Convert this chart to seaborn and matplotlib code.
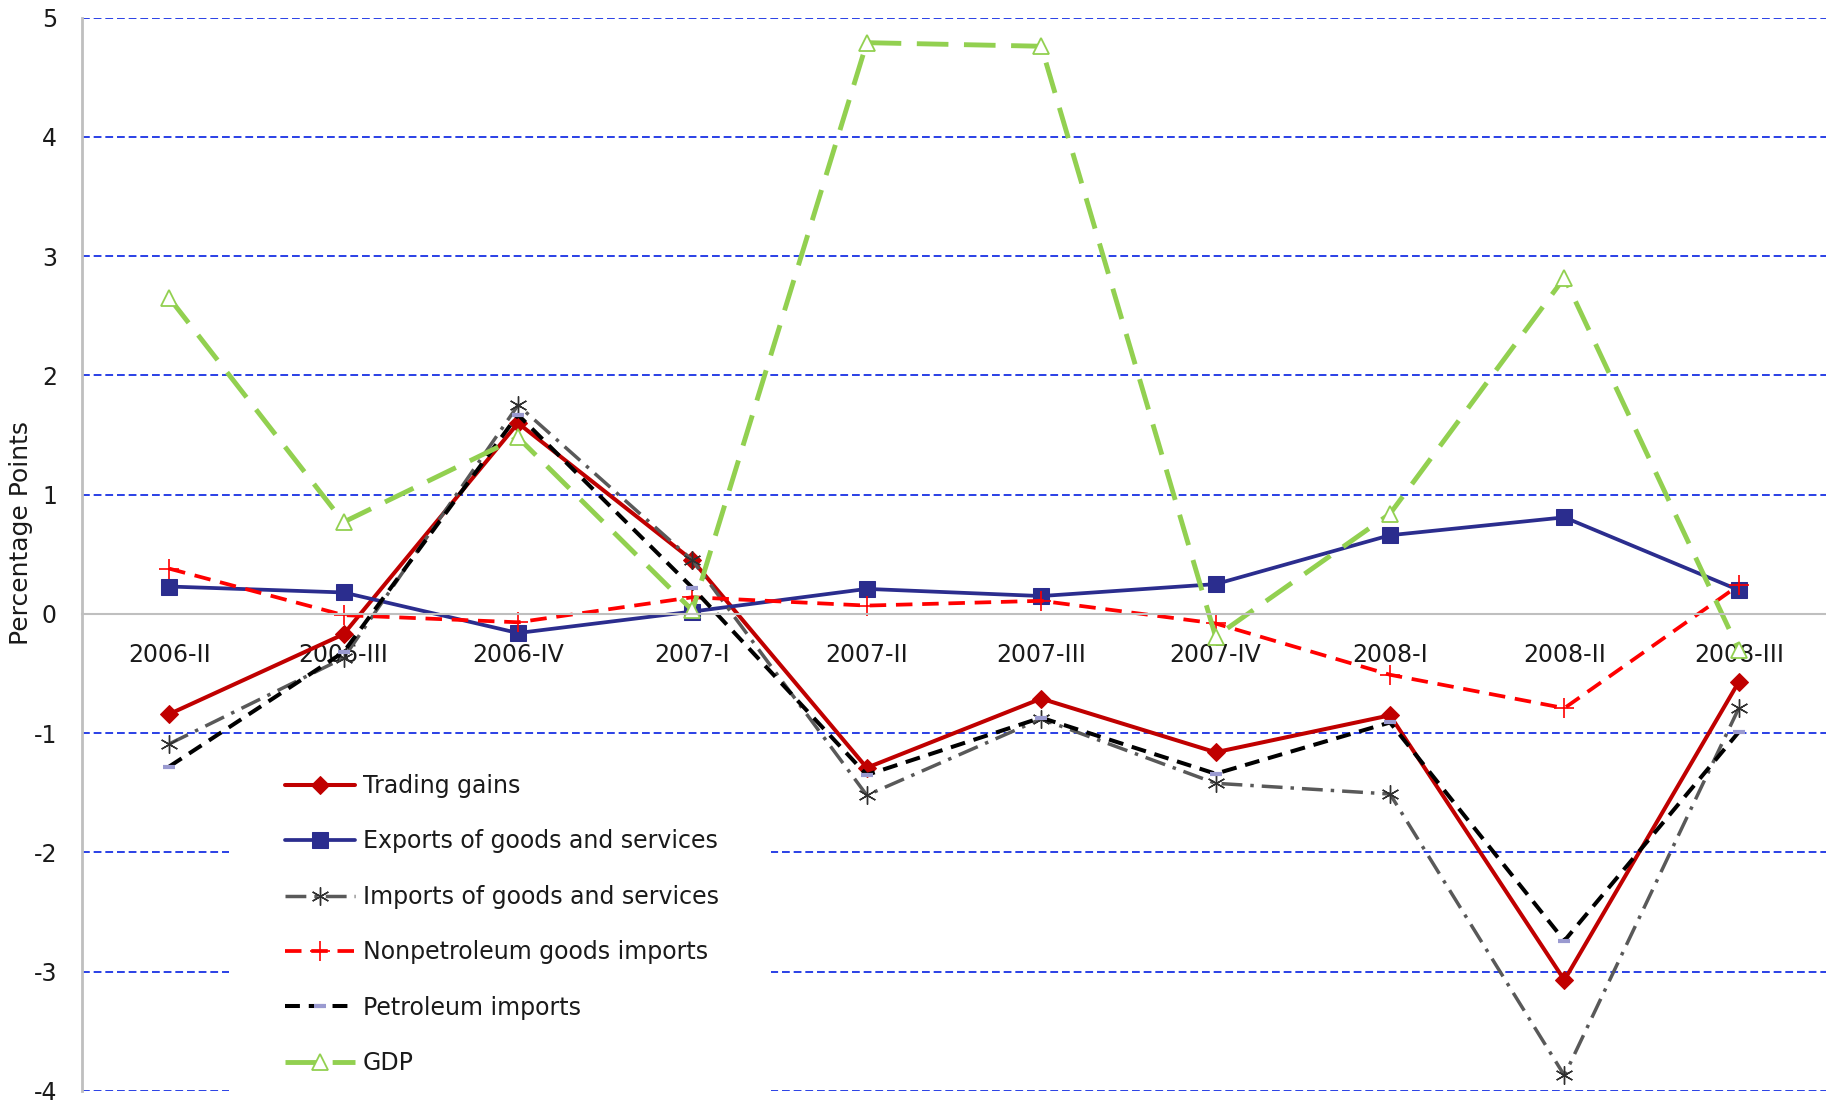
import numpy as np
import pandas as pd
import matplotlib
matplotlib.use("Agg")
import matplotlib.pyplot as plt
from matplotlib.patches import Rectangle
import seaborn as sns

quarters = ["2006-II", "2006-III", "2006-IV", "2007-I", "2007-II",
            "2007-III", "2007-IV", "2008-I", "2008-II", "2008-III"]

trading_gains = [-0.84, -0.17, 1.60, 0.45, -1.29, -0.71, -1.16, -0.85, -3.07, -0.57]
exports = [0.23, 0.18, -0.16, 0.02, 0.21, 0.15, 0.25, 0.66, 0.81, 0.20]
imports = [-1.09, -0.37, 1.75, 0.45, -1.52, -0.88, -1.42, -1.51, -3.87, -0.79]
nonpetroleum = [0.38, -0.01, -0.07, 0.14, 0.07, 0.11, -0.08, -0.51, -0.79, 0.24]
petroleum = [-1.28, -0.32, 1.67, 0.22, -1.35, -0.87, -1.34, -0.91, -2.74, -0.99]
gdp = [2.65, 0.77, 1.48, 0.03, 4.79, 4.76, -0.19, 0.84, 2.82, -0.30]

series_names = ["Trading gains", "Exports of goods and services",
                "Imports of goods and services", "Nonpetroleum goods imports",
                "Petroleum imports", "GDP"]
series_values = [trading_gains, exports, imports, nonpetroleum, petroleum, gdp]

y_ticks = [5, 4, 3, 2, 1, 0, -1, -2, -3, -4]

df = pd.concat([pd.DataFrame({"quarter": quarters, "value": v, "series": n})
                for n, v in zip(series_names, series_values)], ignore_index=True)

sns.set_theme(style="white")
plt.rcParams["font.family"] = ["DejaVu Sans"]
plt.rcParams["axes.unicode_minus"] = False

fig = plt.figure(figsize=(18.26, 11.02), dpi=100)
ax = fig.add_axes([0.0449, 0.010, 0.9551, 0.974])

styles = {
    "Trading gains": dict(color="#c00000", linestyle="-", linewidth=2.9,
                          marker="D", markersize=9, markerfacecolor="#c00000",
                          markeredgecolor="#c00000"),
    "Exports of goods and services": dict(color="#2b2d8e", linestyle="-", linewidth=2.7,
                                          marker="s", markersize=12,
                                          markerfacecolor="#2b2d8e",
                                          markeredgecolor="#2b2d8e"),
    "Imports of goods and services": dict(color="#595959", linestyle=(0, (6, 2.3, 1, 2.3)),
                                          linewidth=2.5, marker=(6, 2, 0), markersize=13,
                                          markeredgecolor="#303030", markeredgewidth=1.0),
    "Nonpetroleum goods imports": dict(color="#ff0000", linestyle=(0, (4.4, 2.6)),
                                       linewidth=2.7, marker="+", markersize=15,
                                       markeredgecolor="#ff0000", markeredgewidth=1.2),
    "Petroleum imports": dict(color="black", linestyle=(0, (3.7, 2.2)), linewidth=2.9,
                              marker="_", markersize=9, markeredgecolor="#9a9ad0",
                              markeredgewidth=3),
    "GDP": dict(color="#92d050", linestyle=(0, (6.5, 3.2)), linewidth=3.5,
                marker="^", markersize=12, markerfacecolor="white",
                markeredgecolor="#92d050", markeredgewidth=1.3),
}

for name in series_names:
    sub = df[df["series"] == name]
    sns.lineplot(data=sub, x="quarter", y="value", ax=ax, sort=False,
                 label=name, **styles[name])

ax.set_xlim(-0.5, len(quarters) - 0.5)
ax.set_ylim(-4, 5)
ax.set_yticks(y_ticks)
ax.set_yticklabels([str(t) for t in y_ticks])
ax.set_axisbelow(True)

ax.yaxis.grid(True, color="#2a40e6", linestyle=(0, (4, 2)), linewidth=1.4)
ax.xaxis.grid(False)

for s in ["top", "right"]:
    ax.spines[s].set_visible(False)
ax.spines["left"].set_color("#bfbfbf")
ax.spines["left"].set_linewidth(2)
ax.spines["bottom"].set_position(("data", 0))
ax.spines["bottom"].set_color("#bfbfbf")
ax.spines["bottom"].set_linewidth(1.5)

ax.tick_params(axis="x", length=0, pad=21, labelsize=17, labelcolor="#1a1a1a")
ax.tick_params(axis="y", length=0, pad=18, labelsize=17, labelcolor="#1a1a1a")
ax.set_xlabel("")
ax.set_ylabel("Percentage Points", fontsize=18, color="#1a1a1a")
ax.yaxis.set_label_coords(-0.028, 0.52)

# white legend area that interrupts the gridlines
ax.add_patch(Rectangle((0.1254, 0.0), 0.2968, 0.324, transform=fig.transFigure,
                       facecolor="white", edgecolor="none", zorder=1.5,
                       clip_on=False))

leg = ax.legend(loc="upper left", bbox_to_anchor=(0.1561, 0.2976),
                bbox_transform=fig.transFigure, frameon=False,
                fontsize=17, handlelength=2.95, handletextpad=0.35,
                labelspacing=1.33, borderpad=0, borderaxespad=0)
for t in leg.get_texts():
    t.set_color("#1a1a1a")

fig.savefig("out.png", dpi=100)
